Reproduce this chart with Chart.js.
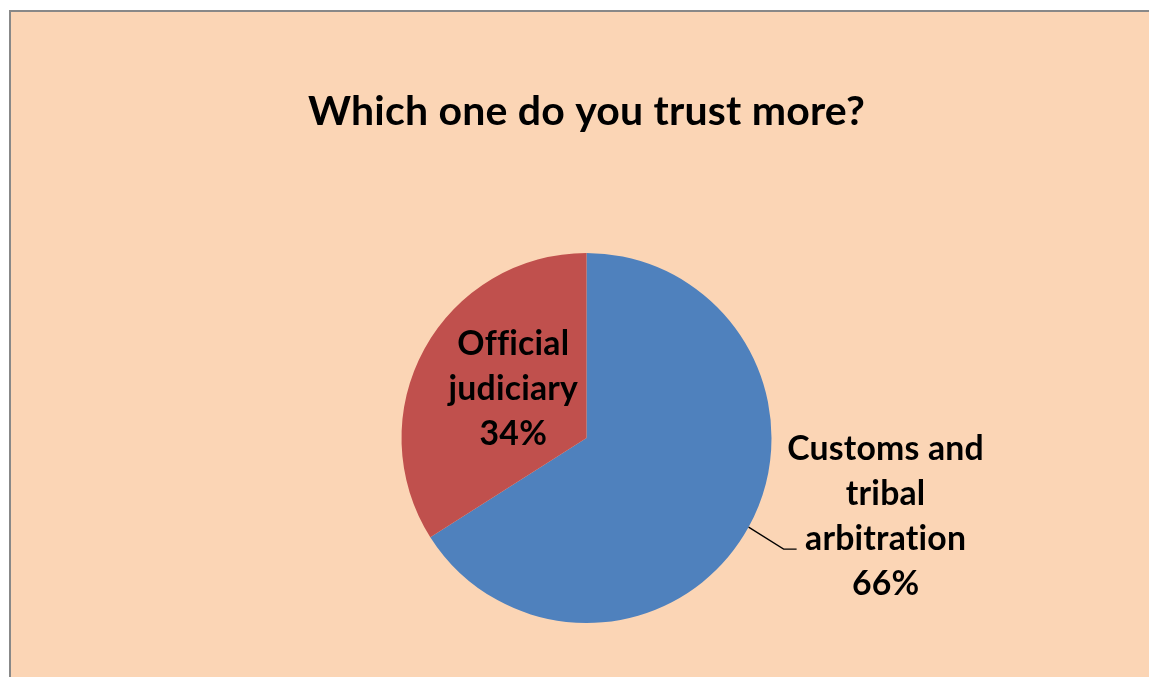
<!DOCTYPE html>
<html>
<head>
<meta charset="utf-8">
<script src="https://cdn.jsdelivr.net/npm/chart.js@4.4.1/dist/chart.umd.min.js"></script>
<style>
  html, body { margin: 0; padding: 0; background: #ffffff; width: 1149px; height: 677px; overflow: hidden; }
  #frame { position: absolute; left: 9px; top: 10px; width: 1140px; height: 667px; background: #FBD5B5; border-top: 2px solid #888888; border-left: 2px solid #888888; box-sizing: border-box; }
  #wrap { position: absolute; left: 0; top: 0; width: 1149px; height: 677px; }
</style>
</head>
<body>
<div id="frame"></div>
<div id="wrap"><canvas id="c" width="1149" height="677"></canvas></div>
<script>
const chartTitle = 'Which one do you trust more?';
const categories = ['Customs and tribal arbitration', 'Official judiciary'];
const values = [66, 34];
const labelLines = [['Customs and', 'tribal', 'arbitration'], ['Official', 'judiciary']];
const sliceColors = ['#4F81BD', '#C0504D'];

const FONT = 'Lato, "Open Sans", "DejaVu Sans", sans-serif';

function setFontFit(ctx, text, targetWidth) {
  let size = 30;
  ctx.font = 'bold ' + size + 'px ' + FONT;
  const w = ctx.measureText(text).width;
  size = size * targetWidth / w;
  ctx.font = 'bold ' + size + 'px ' + FONT;
  return size;
}

const labelPlugin = {
  id: 'labelPlugin',
  afterDatasetsDraw(chart) {
    const ctx = chart.ctx;
    const meta = chart.getDatasetMeta(0);
    ctx.save();
    ctx.fillStyle = '#000000';
    ctx.textAlign = 'center';
    ctx.textBaseline = 'alphabetic';
    if ('letterSpacing' in ctx) ctx.letterSpacing = '0.2px';

    // title
    setFontFit(ctx, chartTitle, 559);
    ctx.fillText(chartTitle, (chart.chartArea.left + chart.chartArea.right) / 2, 125);

    setFontFit(ctx, 'Customs and', 197);
    const lh = 45;

    meta.data.forEach((arc, i) => {
      const p = arc.getProps(['x', 'y', 'startAngle', 'endAngle', 'outerRadius'], true);
      const mid = (p.startAngle + p.endAngle) / 2;
      const lines = labelLines[i].concat([values[i] + '%']);
      if (i === 1) {
        // inside label
        const ax = p.x + Math.cos(mid) * p.outerRadius * 0.47 + 3;
        const ay = p.y + Math.sin(mid) * p.outerRadius * 0.47 - 6;
        const n = lines.length;
        lines.forEach((t, k) => {
          ctx.fillText(t, ax, ay + (k - (n - 1) / 2) * lh + 10);
        });
      } else {
        // outside label with leader line
        const ex = p.x + Math.cos(mid) * p.outerRadius;
        const ey = p.y + Math.sin(mid) * p.outerRadius;
        const bx = ex + 35, by = ey + 22;
        const fx = bx + 13;
        ctx.strokeStyle = '#000000';
        ctx.lineWidth = 1.3;
        ctx.beginPath();
        ctx.moveTo(ex, ey);
        ctx.lineTo(bx, by);
        ctx.lineTo(fx, by);
        ctx.stroke();
        const cx = fx + 89;
        const base3 = by + 1;
        lines.forEach((t, k) => {
          ctx.fillText(t, cx, base3 + (k - 2) * lh);
        });
      }
    });
    ctx.restore();
  }
};

new Chart(document.getElementById('c'), {
  type: 'pie',
  data: {
    labels: categories,
    datasets: [{
      data: values,
      backgroundColor: sliceColors,
      borderWidth: 0,
      hoverOffset: 0
    }]
  },
  options: {
    responsive: false,
    animation: false,
    events: [],
    layout: { padding: { left: 224, right: 200, top: 253, bottom: 54 } },
    plugins: {
      legend: { display: false },
      title: { display: false },
      tooltip: { enabled: false }
    }
  },
  plugins: [labelPlugin]
});
</script>
</body>
</html>
